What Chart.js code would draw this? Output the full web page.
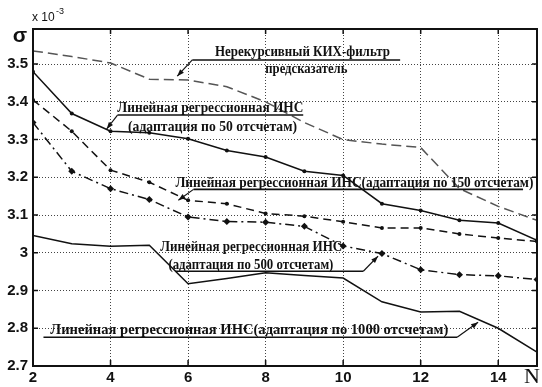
<!DOCTYPE html>
<html>
<head>
<meta charset="utf-8">
<script src="https://cdn.jsdelivr.net/npm/chart.js@4.4.1/dist/chart.umd.min.js"></script>
<style>
  html, body { margin: 0; padding: 0; background: #fff; }
  #wrap { width: 542px; height: 387px; }
</style>
</head>
<body>
<div id="wrap"><canvas id="chart"></canvas></div>
<script>
// number of samples in the window
const nValues = [2, 3, 4, 5, 6, 7, 8, 9, 10, 11, 12, 13, 14, 15];

// sigma, x 10^-3
const firPredictor = [3.535, 3.52, 3.503, 3.46, 3.458, 3.44, 3.40, 3.345, 3.30, 3.288, 3.279, 3.17, 3.123, 3.086];
const lr50   = [3.48, 3.369, 3.322, 3.318, 3.302, 3.271, 3.254, 3.216, 3.205, 3.130, 3.112, 3.086, 3.079, 3.033];
const lr150  = [3.405, 3.322, 3.219, 3.187, 3.139, 3.130, 3.104, 3.097, 3.082, 3.066, 3.066, 3.050, 3.039, 3.030];
const lr500  = [3.345, 3.216, 3.170, 3.141, 3.095, 3.083, 3.081, 3.070, 3.018, 2.998, 2.955, 2.942, 2.939, 2.929];
const lr1000 = [3.046, 3.024, 3.017, 3.020, 2.918, 2.932, 2.947, 2.940, 2.933, 2.870, 2.843, 2.845, 2.800, 2.737];

const xTicks = [2, 4, 6, 8, 10, 12, 14];
const yTicks = [2.7, 2.8, 2.9, 3, 3.1, 3.2, 3.3, 3.4, 3.5];

const ink = '#111';
const serif = '"Liberation Serif", "Times New Roman", serif';
const sans = '"Liberation Sans", Arial, sans-serif';

function pts(ys) {
  return ys.map((y, i) => ({ x: nValues[i], y }));
}

// callouts: text lines (centre in data units, width in px), underline, leader tip
const callouts = [
  {
    lines: [
      { t: 'Нерекурсивный КИХ-фильтр', x: 8.95, y: 3.532, w: 175 },
      { t: 'предсказатель', x: 9.05, y: 3.487, w: 82 }
    ],
    rule: { x0: 6.11, x1: 11.47, y: 3.511 }, from: 'start', tip: { x: 5.72, y: 3.468 }
  },
  {
    lines: [
      { t: 'Линейная регрессионная ИНС', x: 6.575, y: 3.383, w: 186 },
      { t: '(адаптация по 50 отсчетам)', x: 6.63, y: 3.333, w: 169 }
    ],
    rule: { x0: 4.18, x1: 8.97, y: 3.365 }, from: 'start', tip: { x: 3.9, y: 3.328 }
  },
  {
    lines: [
      { t: 'Линейная регрессионная ИНС(адаптация по 150 отсчетам)', x: 10.29, y: 3.184, w: 358 }
    ],
    rule: { x0: 6.14, x1: 14.64, y: 3.168 }, from: 'start', tip: { x: 5.75, y: 3.139 }
  },
  {
    lines: [
      { t: 'Линейная регрессионная ИНС', x: 7.63, y: 3.015, w: 182 },
      { t: '(адаптация по 500 отсчетам)', x: 7.62, y: 2.967, w: 165 }
    ],
    rule: { x0: 5.67, x1: 10.52, y: 2.951 }, from: 'end', tip: { x: 10.9, y: 2.991 }
  },
  {
    lines: [
      { t: 'Линейная регрессионная ИНС(адаптация по 1000 отсчетам)', x: 7.58, y: 2.794, w: 398 }
    ],
    rule: { x0: 2.27, x1: 12.94, y: 2.776 }, from: 'end', tip: { x: 13.48, y: 2.816 }
  }
];

function arrowHead(ctx, x0, y0, x1, y1) {
  const a = Math.atan2(y1 - y0, x1 - x0);
  const len = 7, half = 2.6;
  ctx.beginPath();
  ctx.moveTo(x1, y1);
  ctx.lineTo(x1 - len * Math.cos(a) + half * Math.sin(a), y1 - len * Math.sin(a) - half * Math.cos(a));
  ctx.lineTo(x1 - len * Math.cos(a) - half * Math.sin(a), y1 - len * Math.sin(a) + half * Math.cos(a));
  ctx.closePath();
  ctx.fill();
}

const framePlugin = {
  id: 'frame',
  afterDraw(chart) {
    const { ctx, chartArea: a } = chart;
    const xs = chart.scales.x, ys = chart.scales.y;
    ctx.save();

    // inner tick marks on all four sides
    ctx.strokeStyle = ink;
    ctx.lineWidth = 1.5;
    ctx.beginPath();
    yTicks.forEach(v => {
      const py = ys.getPixelForValue(v);
      ctx.moveTo(a.left, py); ctx.lineTo(a.left + 5, py);
      ctx.moveTo(a.right, py); ctx.lineTo(a.right - 5, py);
    });
    xTicks.forEach(v => {
      const px = xs.getPixelForValue(v);
      ctx.moveTo(px, a.bottom); ctx.lineTo(px, a.bottom - 6);
      ctx.moveTo(px, a.top); ctx.lineTo(px, a.top + 5);
    });
    ctx.stroke();

    // box
    ctx.lineWidth = 2;
    ctx.strokeRect(a.left, a.top, a.right - a.left, a.bottom - a.top);

    // callouts
    ctx.fillStyle = ink;
    ctx.strokeStyle = ink;
    ctx.textAlign = 'center';
    ctx.textBaseline = 'middle';
    ctx.font = 'bold 15px ' + serif;
    callouts.forEach(c => {
      c.lines.forEach(l => {
        const px = xs.getPixelForValue(l.x), py = ys.getPixelForValue(l.y);
        const m = ctx.measureText(l.t).width;
        ctx.save();
        ctx.translate(px, py);
        ctx.scale(l.w / m, 1);
        ctx.fillText(l.t, 0, 0);
        ctx.restore();
      });
      const rx0 = xs.getPixelForValue(c.rule.x0), rx1 = xs.getPixelForValue(c.rule.x1);
      const ry = ys.getPixelForValue(c.rule.y);
      const tx = xs.getPixelForValue(c.tip.x), ty = ys.getPixelForValue(c.tip.y);
      const sx = c.from === 'start' ? rx0 : rx1;
      ctx.lineWidth = 1.6;
      ctx.beginPath();
      ctx.moveTo(rx0, ry); ctx.lineTo(rx1, ry);
      ctx.stroke();
      ctx.lineWidth = 1.2;
      ctx.beginPath();
      ctx.moveTo(sx, ry); ctx.lineTo(tx, ty);
      ctx.stroke();
      arrowHead(ctx, sx, ry, tx, ty);
    });

    // axis captions
    ctx.textAlign = 'center';
    ctx.font = 'bold 21px ' + sans;
    ctx.fillText('σ', 20, 36);
    ctx.textAlign = 'left';
    ctx.font = '12px ' + sans;
    ctx.fillText('x 10', 32, 18);
    ctx.font = '9px ' + sans;
    ctx.fillText('-3', 56, 12);
    ctx.textAlign = 'center';
    ctx.font = '22px ' + serif;
    ctx.fillText('N', 532, 377);
    ctx.restore();
  }
};

const gridStyle = {
  color: '#444',
  lineWidth: 1,
  drawTicks: false
};

new Chart(document.getElementById('chart'), {
  type: 'line',
  data: {
    datasets: [
      {
        label: 'Нерекурсивный КИХ-фильтр предсказатель',
        data: pts(firPredictor),
        borderColor: '#555',
        borderWidth: 1.5,
        borderDash: [10, 5],
        pointRadius: 0
      },
      {
        label: 'адаптация по 50 отсчетам',
        data: pts(lr50),
        borderColor: ink,
        borderWidth: 1.5,
        pointRadius: 2,
        pointBackgroundColor: ink,
        pointBorderWidth: 0
      },
      {
        label: 'адаптация по 150 отсчетам',
        data: pts(lr150),
        borderColor: ink,
        borderWidth: 1.5,
        borderDash: [8, 5],
        pointRadius: 2,
        pointBackgroundColor: ink,
        pointBorderWidth: 0
      },
      {
        label: 'адаптация по 500 отсчетам',
        data: pts(lr500),
        borderColor: ink,
        borderWidth: 1.5,
        borderDash: [9, 4, 2, 4],
        pointStyle: 'rectRot',
        pointRadius: 3.5,
        pointBackgroundColor: ink,
        pointBorderWidth: 0
      },
      {
        label: 'адаптация по 1000 отсчетам',
        data: pts(lr1000),
        borderColor: ink,
        borderWidth: 1.5,
        pointRadius: 0
      }
    ]
  },
  options: {
    responsive: true,
    maintainAspectRatio: false,
    animation: false,
    layout: { padding: { left: 0, right: 5, top: 29, bottom: 0 } },
    elements: { line: { tension: 0, fill: false } },
    scales: {
      x: {
        type: 'linear',
        min: 2,
        max: 15,
        afterBuildTicks: s => { s.ticks = xTicks.map(v => ({ value: v })); },
        afterFit: s => { s.height = 21; },
        grid: gridStyle,
        border: { display: false, dash: [1, 2] },
        ticks: {
          color: ink,
          padding: 3,
          font: { family: sans, size: 15, weight: 'bold' },
          callback: v => String(v)
        }
      },
      y: {
        min: 2.7,
        max: 3.593,
        afterBuildTicks: s => { s.ticks = yTicks.map(v => ({ value: v })); },
        afterFit: s => { s.width = 33; },
        grid: gridStyle,
        border: { display: false, dash: [1, 2] },
        ticks: {
          color: ink,
          padding: 5,
          font: { family: sans, size: 15, weight: 'bold' },
          callback: v => String(v)
        }
      }
    },
    plugins: {
      legend: { display: false },
      tooltip: { enabled: false }
    }
  },
  plugins: [framePlugin]
});
</script>
</body>
</html>
